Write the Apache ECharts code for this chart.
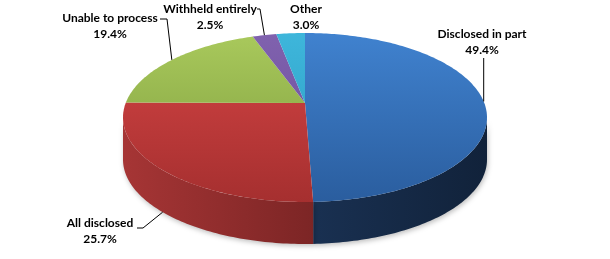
<!DOCTYPE html>
<html><head><meta charset="utf-8">
<script src="https://cdn.jsdelivr.net/npm/echarts@6/dist/echarts.min.js"></script>
<style>html,body{margin:0;padding:0;background:#fff}#c{width:610px;height:259px}</style>
</head><body><div id="c"></div>
<script>
const categories = ['Disclosed in part', 'All disclosed', 'Unable to process', 'Withheld entirely', 'Other'];
const values = [49.4, 25.7, 19.4, 2.5, 3.0];
const percentLabels = ['49.4%', '25.7%', '19.4%', '2.5%', '3.0%'];

// styling / layout (kept separate from data)
const topColors = [['#4082cf', '#2a5d9e'], ['#d54545', '#a52f2f'], ['#a9c95c', '#7b9a3b'], ['#8062ae', '#69499a'], ['#3eb6db', '#2a9abf']];
const sideColors = [['#22406b', '#11223a'], ['#a63535', '#561717'], ['#6e8a34', '#55702a'], ['#5a3f80', '#452f66'], ['#2a8cb0', '#1f7090']];
const labelLayout = [
  {x: 482, y: 26, lead: [[484, 58]]},
  {x: 100, y: 215, lead: [[137, 228], [143, 228]]},
  {x: 110, y: 10, lead: [[160, 19], [167, 19]]},
  {x: 210, y: 1, lead: [[257, 9], [260, 9]]},
  {x: 306, y: 1, lead: null}
];
const G = {cx: 305, cy: 103, a: 179.3, b: 82, p: 0.1716, h: 42};

function proj(deg) {
  const t = deg * Math.PI / 180;
  const s = Math.sin(t), c = -Math.cos(t);
  const w = 1 - G.p * c;
  return [G.cx + G.a * s / w, G.cy + G.b * c / w];
}
const silA = Math.acos(-G.p) * 180 / Math.PI;
const silB = 360 - silA;

const total = values.reduce((a, b) => a + b, 0);
const starts = [];
let acc = 0;
values.forEach(v => { starts.push(acc / total * 360); acc += v; });

function arc(a0, a1) {
  const pts = [];
  const n = Math.max(2, Math.ceil(Math.abs(a1 - a0)));
  for (let i = 0; i <= n; i++) pts.push(proj(a0 + (a1 - a0) * i / n));
  return pts;
}

function renderItem(params, api) {
  const i = params.dataIndex;
  const v = api.value(0);
  const a0 = starts[i], a1 = a0 + v / total * 360;
  const children = [];
  const s0 = Math.max(a0, silA), s1 = Math.min(a1, silB);
  if (s1 > s0) {
    const topArc = arc(s0, s1);
    const bot = topArc.slice().reverse().map(p => [p[0], p[1] + G.h]);
    children.push({
      type: 'polygon',
      shape: {points: topArc.concat(bot)},
      style: {
        fill: {type: 'linear', x: 123, y: 0, x2: 487, y2: 0, global: true,
          colorStops: [{offset: 0, color: sideColors[i][0]}, {offset: 1, color: sideColors[i][1]}]},
        stroke: null,
        shadowBlur: 5, shadowColor: 'rgba(0,0,0,0.25)', shadowOffsetY: 2, shadowOffsetX: 1
      }
    });
  }
  const topPts = [[G.cx, G.cy]].concat(arc(a0, a1));
  children.push({
    type: 'polygon',
    shape: {points: topPts},
    style: {
      fill: {type: 'linear', x: 0, y: 33, x2: 0, y2: 203, global: true,
        colorStops: [{offset: 0, color: topColors[i][0]}, {offset: 1, color: topColors[i][1]}]},
      stroke: null
    }
  });
  const L = labelLayout[i];
  children.push({
    type: 'text',
    z2: 50,
    style: {
      text: api.value(1) + '\n' + percentLabels[i],
      x: L.x, y: L.y, align: 'center', verticalAlign: 'top',
      font: 'bold 12px Lato', lineHeight: 16, fill: '#000'
    }
  });
  if (L.lead) {
    const mid = (a0 + a1) / 2;
    let anc = proj(mid);
    if (mid > silA && mid < silB) anc = [anc[0], anc[1] + G.h];
    let pts = L.lead.concat([anc]);
    if (L.lead.length === 1) pts = [[anc[0], L.lead[0][1]], anc];
    children.push({type: 'polyline', z2: 50, shape: {points: pts}, style: {stroke: '#000', lineWidth: 1, fill: null}});
  }
  return {type: 'group', children: children};
}

const chart = echarts.init(document.getElementById('c'));
chart.setOption({
  animation: false,
  series: [{
    type: 'custom',
    coordinateSystem: 'none',
    renderItem: renderItem,
    data: values.map((v, i) => [v, categories[i]])
  }]
});
</script></body></html>
